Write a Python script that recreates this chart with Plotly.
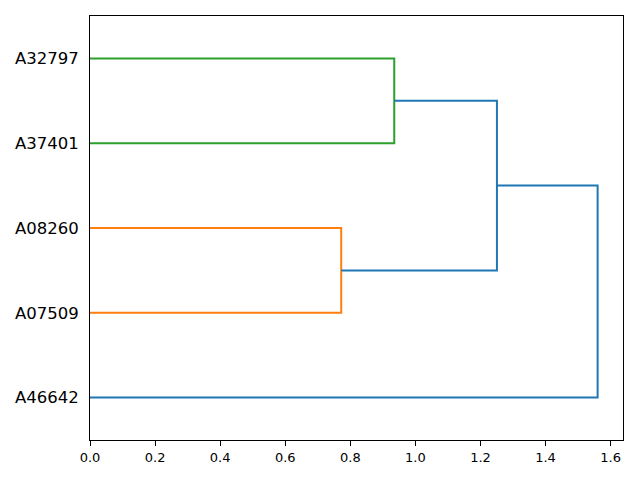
"""
Horizontal dendrogram of five samples
"""
import plotly.graph_objects as go

# leaves in display order, bottom to top
leaf_labels = ["A46642", "A07509", "A08260", "A37401", "A32797"]

# linkage: each merge joins two nodes (leaves 0..4, then new nodes 5, 6, ...)
merge_left = [1, 3, 5, 0]
merge_right = [2, 4, 6, 7]
merge_height = [0.772, 0.935, 1.2506, 1.560]
merge_color = ["#ff7f0e", "#2ca02c", "#1f77b4", "#1f77b4"]

x_ticks = [0.0, 0.2, 0.4, 0.6, 0.8, 1.0, 1.2, 1.4, 1.6]

# node positions: leaves at 5, 15, 25, ... like scipy
node_y = [5 + 10 * i for i in range(len(leaf_labels))]
node_x = [0.0] * len(leaf_labels)

fig = go.Figure()
for a, b, h, c in zip(merge_left, merge_right, merge_height, merge_color):
    ya, yb = node_y[a], node_y[b]
    fig.add_trace(
        go.Scatter(
            x=[node_x[a], h, h, node_x[b]],
            y=[ya, ya, yb, yb],
            mode="lines",
            line=dict(color=c, width=2),
            showlegend=False,
            hoverinfo="skip",
        )
    )
    node_y.append((ya + yb) / 2)
    node_x.append(h)

x_max = max(merge_height) * 1.05

# page body has an 8px margin, so the figure is sized to fit inside it
fig.update_layout(
    width=624,
    height=464,
    margin=dict(l=81, r=9, t=7, b=31),
    plot_bgcolor="white",
    paper_bgcolor="white",
    font=dict(family="DejaVu Sans", color="black"),
    xaxis=dict(
        range=[0, x_max],
        tickvals=x_ticks,
        ticktext=[f"{v:.1f}" for v in x_ticks],
        ticks="outside",
        ticklen=5,
        tickcolor="black",
        tickfont=dict(size=13),
        showgrid=False,
        zeroline=False,
        showline=True,
        linecolor="black",
        linewidth=1,
        mirror=True,
    ),
    yaxis=dict(
        range=[0, 10 * len(leaf_labels)],
        tickvals=node_y[: len(leaf_labels)],
        ticktext=leaf_labels,
        ticks="",
        ticklabelstandoff=7,
        tickfont=dict(size=16.5),
        showgrid=False,
        zeroline=False,
        showline=True,
        linecolor="black",
        linewidth=1,
        mirror=True,
    ),
)

fig.write_html("out.html")
